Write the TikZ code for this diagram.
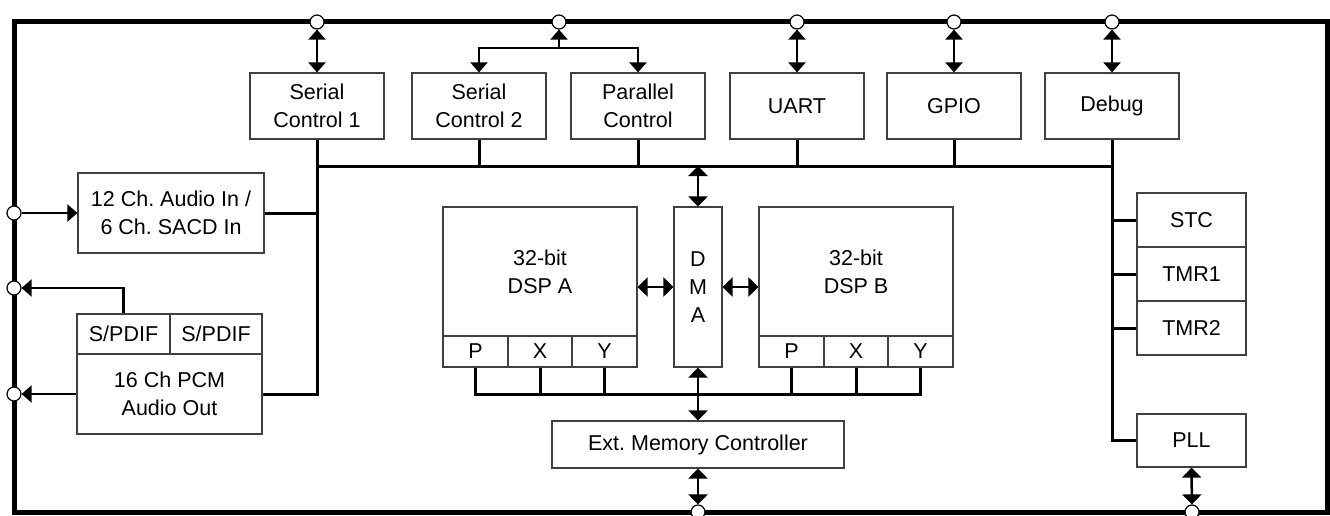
\documentclass[tikz,border=0pt]{standalone}
\usepackage{fontspec}
\setmainfont{Liberation Sans}
\usetikzlibrary{arrows.meta}
\frenchspacing
\begin{document}
\begin{tikzpicture}[x=1pt,y=-1pt,
  box/.style={draw=black!75,line width=1.2pt,fill=white,inner sep=0pt,align=center,
    font=\fontsize{21.5}{28}\selectfont},
  pin/.style={circle,draw=black,line width=1.2pt,fill=white,minimum size=14pt,inner sep=0pt},
  frame/.style={line width=5pt},
  bus/.style={line width=3pt},
  tip/.style={},
  arr/.style={line width=2.2pt,-{Triangle[width=17pt,length=10pt]}},
  dbl/.style={line width=2.2pt,{Triangle[width=17pt,length=10pt]}-{Triangle[width=17pt,length=10pt]}},
  dblw/.style={line width=2.5pt,{Triangle[width=19pt,length=10pt]}-{Triangle[width=19pt,length=10pt]}}]
\useasboundingbox (0,0) rectangle (1330,516);
% frame
\draw[frame] (14,22) rectangle (1327,512);
% top boxes
\node[box,minimum width=134pt,minimum height=66pt] (sc1) at (317,106) {Serial\\Control 1};
\node[box,minimum width=134pt,minimum height=66pt] (sc2) at (479,106) {Serial\\Control 2};
\node[box,minimum width=134pt,minimum height=66pt] (par) at (638,106) {Parallel\\Control};
\node[box,minimum width=134pt,minimum height=66pt] (uart) at (797,106) {UART};
\node[box,minimum width=134pt,minimum height=66pt] (gpio) at (954,106) {GPIO};
\node[box,minimum width=134pt,minimum height=66pt] (dbg) at (1112,106) {Debug};
% left boxes
\node[box,minimum width=186pt,minimum height=80pt] (ain) at (171,213) {12 Ch. Audio In /\\6 Ch. SACD In};
\node[box,minimum width=93pt,minimum height=40pt] (sp1) at (123.5,334) {S/PDIF};
\node[box,minimum width=92pt,minimum height=40pt] (sp2) at (216,334) {S/PDIF};
\node[box,minimum width=185pt,minimum height=80pt] (pcm) at (169.5,394) {16 Ch PCM\\Audio Out};
% DSP A
\node[box,minimum width=194pt,minimum height=129pt] (dspa) at (540,271.5) {32-bit\\DSP A};
\node[box,minimum width=65pt,minimum height=31pt] (pa) at (475.5,351.5) {P};
\node[box,minimum width=64pt,minimum height=31pt] (xa) at (540,351.5) {X};
\node[box,minimum width=65pt,minimum height=31pt] (ya) at (604.5,351.5) {Y};
% DMA
\node[box,minimum width=48pt,minimum height=160pt] (dma) at (698,287) {D\\M\\A};
% DSP B
\node[box,minimum width=194pt,minimum height=129pt] (dspb) at (856,271.5) {32-bit\\DSP B};
\node[box,minimum width=65pt,minimum height=31pt] (pb) at (791.5,351.5) {P};
\node[box,minimum width=64pt,minimum height=31pt] (xb) at (856,351.5) {X};
\node[box,minimum width=65pt,minimum height=31pt] (yb) at (920.5,351.5) {Y};
% Ext mem
\node[box,minimum width=292pt,minimum height=47pt] (ext) at (698,444.5) {Ext. Memory Controller};
% right boxes
\node[box,minimum width=109pt,minimum height=54pt] (stc) at (1191.5,220) {STC};
\node[box,minimum width=109pt,minimum height=54pt] (tmr1) at (1191.5,274) {TMR1};
\node[box,minimum width=109pt,minimum height=54pt] (tmr2) at (1191.5,328) {TMR2};
\node[box,minimum width=109pt,minimum height=53pt] (pll) at (1191.5,440.5) {PLL};
% pins
\node[pin] (t1) at (317,22) {};
\node[pin] (t2) at (559,22) {};
\node[pin] (t3) at (797,22) {};
\node[pin] (t4) at (954,22) {};
\node[pin] (t5) at (1112,22) {};
\node[pin] (l1) at (14,213) {};
\node[pin] (l2) at (14,288) {};
\node[pin] (l3) at (14,394) {};
\node[pin] (b1) at (698,512) {};
\node[pin] (b2) at (1192,512) {};
% coordinates
\coordinate (hb) at (0,166);
\coordinate (mb) at (0,394);
\coordinate (j) at (559,48);
% main bus
\draw[bus] (sc1.south) |- (pcm.east);
\draw[bus] (ain.east) -- (ain.east -| sc1.south);
\draw[bus] (hb -| sc1.south) -- (hb -| dbg.south);
\draw[bus] (sc2.south) -- (sc2.south |- hb);
\draw[bus] (par.south) -- (par.south |- hb);
\draw[bus] (uart.south) -- (uart.south |- hb);
\draw[bus] (gpio.south) -- (gpio.south |- hb);
\draw[bus] (dbg.south) |- (pll.west);
\draw[bus] (stc.west -| dbg.south) -- (stc.west);
\draw[bus] (tmr1.west -| dbg.south) -- (tmr1.west);
\draw[bus] (tmr2.west -| dbg.south) -- (tmr2.west);
% memory bus
\draw[bus] (pa.south) |- (mb -| yb.south) -- (yb.south);
\draw[bus] (xa.south) -- (xa.south |- mb);
\draw[bus] (ya.south) -- (ya.south |- mb);
\draw[bus] (pb.south) -- (pb.south |- mb);
\draw[bus] (xb.south) -- (xb.south |- mb);
% top arrows
\draw[dbl] (t1) -- (sc1.north);
\draw[arr] (j) -- (t2);
\draw[arr] (j) -| (sc2.north);
\draw[arr] (j) -| (par.north);
\draw[dbl] (t3) -- (uart.north);
\draw[dbl] (t4) -- (gpio.north);
\draw[dbl] (t5) -- (dbg.north);
% left arrows
\draw[arr] (l1) -- (ain.west);
\draw[arr] (sp1.north) |- (l2);
\draw[arr] (pcm.west) -- (l3);
% DMA arrows
\draw[dblw] (hb -| dma.north) -- (dma.north);
\draw[dblw] (dma.west) -- (dma.west -| dspa.east);
\draw[dblw] (dma.east) -- (dma.east -| dspb.west);
\draw[dblw] (dma.south) -- (ext.north);
\draw[dblw] (ext.south) -- (b1);
\draw[dblw] (pll.south) -- (b2);
\end{tikzpicture}
\end{document}
